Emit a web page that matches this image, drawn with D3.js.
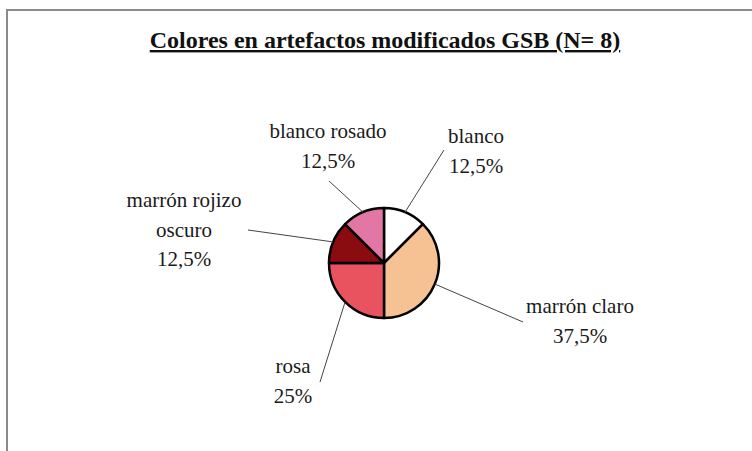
<!DOCTYPE html>
<html>
<head>
<meta charset="utf-8">
<script src="https://cdn.jsdelivr.net/npm/d3@7"></script>
<style>
  html, body { margin: 0; padding: 0; background: #fff; }
  svg { display: block; }
</style>
</head>
<body>
<svg id="chart" width="752" height="451"></svg>
<script>
// Colour categories and their counts (N = 8)
const categories = ["blanco", "marrón claro", "rosa", "marrón rojizo oscuro", "blanco rosado"];
const counts = [1, 3, 2, 1, 1];
const percentLabels = ["12,5%", "37,5%", "25%", "12,5%", "12,5%"];
const sliceColors = ["#ffffff", "#f6c193", "#e8535f", "#8a0b10", "#e277a5"];

// Label layout: text lines, text centre, first baseline, leader-line end
const labelLayout = [
  { lines: ["blanco"], cx: 476, y: 143, end: [444, 150] },
  { lines: ["marrón claro"], cx: 580, y: 313, end: [523, 322] },
  { lines: ["rosa"], cx: 293, y: 373, end: [320, 382] },
  { lines: ["marrón rojizo", "oscuro"], cx: 184, y: 207, end: [248, 230] },
  { lines: ["blanco rosado"], cx: 328, y: 138, end: [329, 181] }
];

const svg = d3.select("#chart");
const W = 752, H = 451;
const cx = 384, cy = 263, R = 55;
const serif = "'Liberation Serif', 'Times New Roman', serif";

// Frame (top and left edges)
svg.append("path")
  .attr("d", `M7,${H} L7,10 L${W},10`)
  .attr("fill", "none")
  .attr("stroke", "#8a8a8a")
  .attr("stroke-width", 2);

// Title
svg.append("text")
  .attr("x", 385).attr("y", 48)
  .attr("text-anchor", "middle")
  .attr("font-family", serif)
  .attr("font-weight", "bold")
  .attr("font-size", 24)
  .attr("fill", "#111")
  .attr("text-decoration", "underline")
  .text("Colores en artefactos modificados GSB (N= 8)");

const data = categories.map((c, i) => ({ name: c, value: counts[i], pct: percentLabels[i], color: sliceColors[i], layout: labelLayout[i] }));

const pie = d3.pie().value(d => d.value).sort(null).startAngle(0).endAngle(2 * Math.PI);
const arc = d3.arc().innerRadius(0).outerRadius(R);
const arcs = pie(data);

const g = svg.append("g").attr("transform", `translate(${cx},${cy})`);

g.selectAll("path.slice")
  .data(arcs)
  .join("path")
  .attr("class", "slice")
  .attr("d", arc)
  .attr("fill", d => d.data.color)
  .attr("stroke", "#000")
  .attr("stroke-width", 2.5)
  .attr("stroke-linejoin", "round");

// Leader lines from the middle of each slice's rim to its label
svg.selectAll("line.leader")
  .data(arcs)
  .join("line")
  .attr("class", "leader")
  .attr("x1", d => cx + R * Math.sin((d.startAngle + d.endAngle) / 2))
  .attr("y1", d => cy - R * Math.cos((d.startAngle + d.endAngle) / 2))
  .attr("x2", d => d.data.layout.end[0])
  .attr("y2", d => d.data.layout.end[1])
  .attr("stroke", "#444")
  .attr("stroke-width", 1);

// Labels: category name lines followed by the percentage
const lineH = 29.5;
arcs.forEach(d => {
  const L = d.data.layout;
  const t = svg.append("text")
    .attr("text-anchor", "middle")
    .attr("font-family", serif)
    .attr("font-size", 21)
    .attr("fill", "#1a1a1a");
  const lines = L.lines.concat([d.data.pct]);
  lines.forEach((s, i) => {
    t.append("tspan")
      .attr("x", L.cx)
      .attr("y", L.y + i * lineH)
      .text(s);
  });
});
</script>
</body>
</html>
